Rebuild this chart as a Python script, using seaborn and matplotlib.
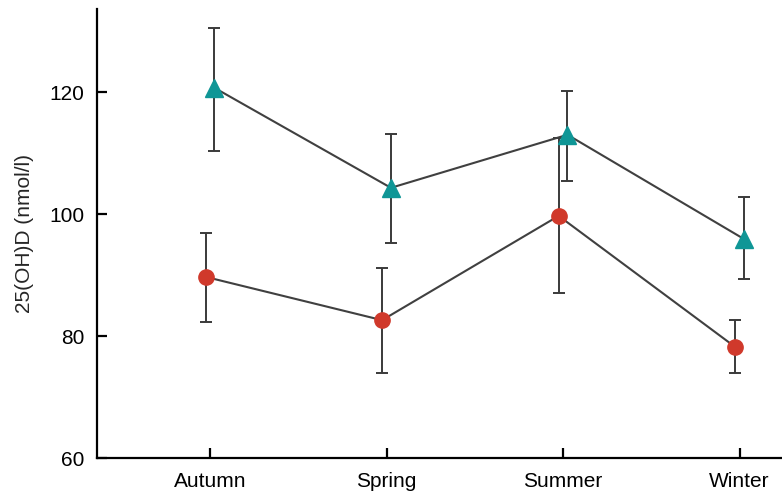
import matplotlib
matplotlib.use("Agg")
import matplotlib.pyplot as plt
import seaborn as sns
import pandas as pd
import numpy as np

seasons = ["Autumn", "Spring", "Summer", "Winter"]

red_mean = [89.7, 82.6, 99.7, 78.2]
red_low = [82.3, 73.9, 87.1, 74.0]
red_high = [96.9, 91.1, 112.5, 82.6]

teal_mean = [120.7, 104.3, 113.0, 95.9]
teal_low = [110.3, 95.2, 105.4, 89.4]
teal_high = [130.5, 113.1, 120.2, 102.8]

sns.set_theme(style="ticks")
plt.rcParams["font.family"] = ["Liberation Sans", "DejaVu Sans"]

fig = plt.figure(figsize=(7.82, 4.96), dpi=100)
ax = fig.add_axes([0.124, 0.0766, 0.876, 0.905])

pos = np.arange(len(seasons))
groups = [
    ("red", red_mean, red_low, red_high, -0.025, "o", "#d0392b", 11),
    ("teal", teal_mean, teal_low, teal_high, 0.025, "^", "#0f9696", 13),
]

for name, mean, low, high, off, mk, col, ms in groups:
    x = pos + off
    df = pd.DataFrame({"x": x, "y": mean})
    mean = np.array(mean)
    ax.errorbar(x, mean, yerr=[mean - np.array(low), np.array(high) - mean],
                fmt="none", ecolor="#3a3a3a", elinewidth=1.4, capsize=4,
                capthick=1.4, zorder=2)
    sns.lineplot(data=df, x="x", y="y", ax=ax, color="#404040", linewidth=1.5,
                 zorder=3, legend=False)
    ax.plot(x, mean, linestyle="none", marker=mk, markersize=ms,
            markerfacecolor=col, markeredgecolor=col, zorder=4)

ax.set_xlim(-0.64, 3.24)
ax.set_ylim(60, 133.6)
ax.set_xticks(pos)
ax.set_xticklabels(seasons)
ax.set_yticks([60, 80, 100, 120])
ax.set_xlabel("")
ax.set_ylabel("25(OH)D (nmol/l)", fontsize=15, labelpad=11)

sns.despine(ax=ax)
for s in ["left", "bottom"]:
    ax.spines[s].set_linewidth(1.6)
    ax.spines[s].set_color("black")
ax.tick_params(axis="both", direction="in", length=7, width=1.6,
               labelsize=15, colors="black")
ax.tick_params(axis="y", pad=9)
ax.tick_params(axis="x", pad=10)

fig.savefig("out.png", dpi=100)
